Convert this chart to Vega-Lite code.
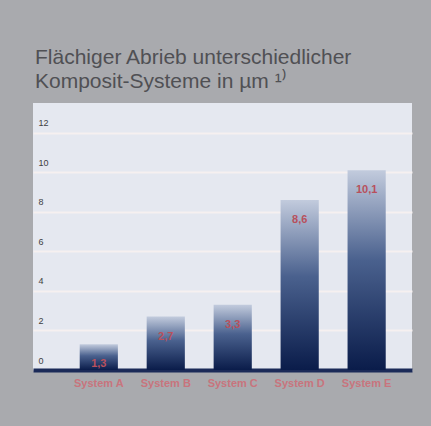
{
  "$schema": "https://vega.github.io/schema/vega-lite/v6.json",
  "width": 379,
  "height": 267,
  "autosize": "none",
  "padding": {"left": 33, "top": 103, "right": 19, "bottom": 56},
  "background": "#a9aaae",
  "title": {
    "text": ["Flächiger Abrieb unterschiedlicher", "Komposit-Systeme in µm ¹⁾"],
    "anchor": "start",
    "frame": "group",
    "orient": "top",
    "offset": 11,
    "dx": 2,
    "font": "Liberation Sans",
    "fontSize": 21,
    "fontWeight": "normal",
    "lineHeight": 24,
    "color": "#505054"
  },
  "data": {
    "values": [
      {"system": "System A", "abrieb": 1.3, "label": "1,3"},
      {"system": "System B", "abrieb": 2.7, "label": "2,7"},
      {"system": "System C", "abrieb": 3.3, "label": "3,3"},
      {"system": "System D", "abrieb": 8.6, "label": "8,6"},
      {"system": "System E", "abrieb": 10.1, "label": "10,1"}
    ]
  },
  "encoding": {
    "x": {
      "field": "system",
      "type": "nominal",
      "sort": null,
      "scale": {"paddingInner": 0.43, "paddingOuter": 0.545, "align": 0.64},
      "axis": {
        "title": null,
        "labelAngle": 0,
        "ticks": false,
        "grid": false,
        "domain": true,
        "domainColor": "#1b2a58",
        "domainWidth": 4,
        "labelPadding": 7,
        "labelColor": "#c8747d",
        "labelFont": "Liberation Sans",
        "labelFontSize": 11,
        "labelFontWeight": "bold"
      }
    },
    "y": {
      "field": "abrieb",
      "type": "quantitative",
      "scale": {"domain": [0, 13.5], "nice": false},
      "axis": {
        "title": null,
        "values": [0, 2, 4, 6, 8, 10, 12],
        "domain": false,
        "ticks": false,
        "tickSize": 0,
        "labelAlign": "left",
        "labelPadding": -5,
        "labelBaseline": "middle",
        "labelOffset": -10,
        "labelColor": "#3e3e42",
        "labelFont": "Liberation Sans",
        "labelFontSize": 9,
        "grid": true,
        "gridColor": "#f6f0f0",
        "gridWidth": 2
      }
    }
  },
  "layer": [
    {
      "mark": {
        "type": "bar",
        "color": {
          "gradient": "linear",
          "x1": 0, "y1": 1, "x2": 0, "y2": 0,
          "stops": [
            {"offset": 0, "color": "#0a1c4a"},
            {"offset": 0.55, "color": "#4a618e"},
            {"offset": 1, "color": "#c2cbdd"}
          ]
        }
      }
    },
    {
      "mark": {
        "type": "text",
        "baseline": "middle",
        "dy": 20,
        "font": "Liberation Sans",
        "fontSize": 11,
        "fontWeight": "bold",
        "color": "#b8505c"
      },
      "encoding": {"text": {"field": "label"}}
    }
  ],
  "config": {
    "view": {"fill": "#e5e8f0", "stroke": null}
  }
}
